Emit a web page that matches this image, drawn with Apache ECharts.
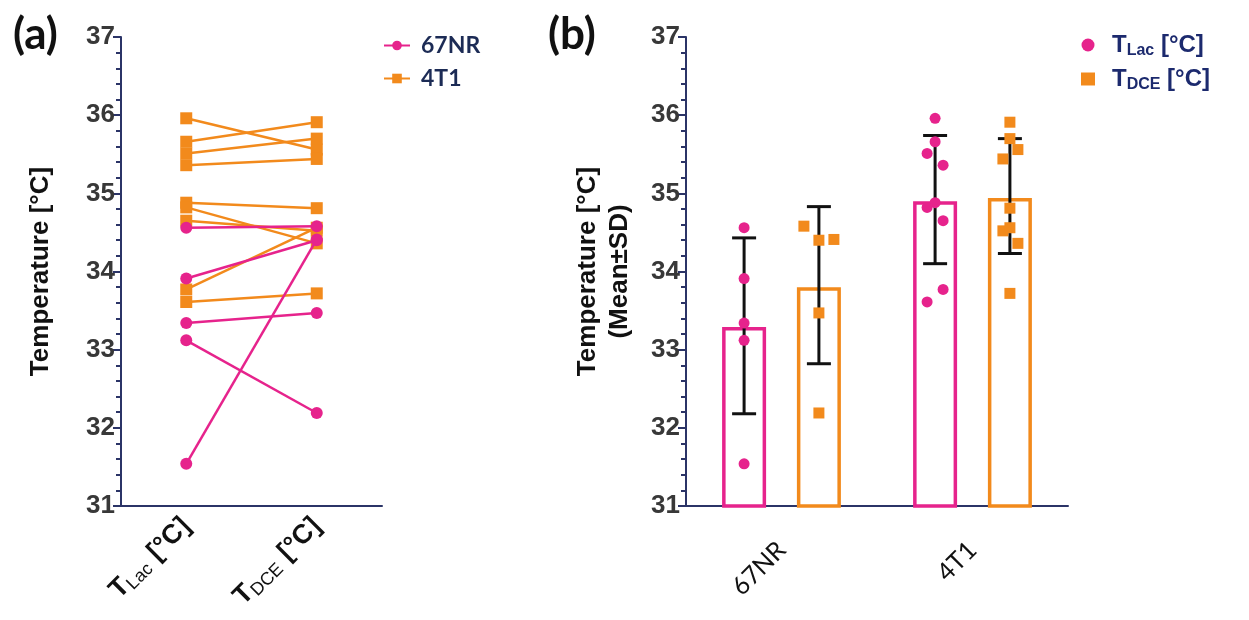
<!DOCTYPE html>
<html>
<head>
<meta charset="utf-8">
<script src="https://cdn.jsdelivr.net/npm/echarts@6/dist/echarts.min.js"></script>
<style>
  html, body { margin: 0; padding: 0; background: #fff; }
  #main { width: 1249px; height: 620px; }
</style>
</head>
<body>
<div id="main"></div>
<script>
// paired readings per mouse (TLac -> TDCE)
var lac67 = [34.56, 33.91, 33.34, 33.12, 31.54];
var dce67 = [34.58, 34.40, 33.47, 32.19, 34.41];
var lac4t1 = [35.96, 35.66, 35.51, 35.36, 34.88, 34.82, 34.65, 33.77, 33.61];
var dce4t1 = [35.56, 35.91, 35.70, 35.44, 34.81, 34.36, 34.52, 34.56, 33.72];

var tempCats = ['TLac', 'TDCE'];
var groupCats = ['67NR', '4T1'];

// mean and mean±SD
var meanLac = [33.29, 34.90];
var meanDce = [33.80, 34.94];
var sdHiLac = [34.43, 35.74];
var sdLoLac = [32.18, 34.10];
var sdHiDce = [34.83, 35.70];
var sdLoDce = [32.82, 34.23];

// horizontal scatter jitter in panel (b), px
var jitLac67 = [0, 0, 0, 0, 0];
var jitDce67 = [-15, 0, 0, 0, 15];
var jitLac4t1 = [0, 0, -8, 8, 0, -8, 8, 8, -8];
var jitDce4t1 = [8, 0, 0, -7, 0, 8, -7, 0, 0];

var PINK = '#e6238c';
var ORANGE = '#f28a1c';
var AXIS = '#2b3467';
var NAVY = '#1c2a6e';
var BAR_SHIFT = 37.4;

var chart = echarts.init(document.getElementById('main'));

function yAxis(gridIndex, name, gap) {
  return {
    type: 'value', gridIndex: gridIndex, min: 31, max: 37, interval: 1,
    axisLine: { show: true, lineStyle: { color: AXIS, width: 2 } },
    axisTick: { show: true, length: 8, lineStyle: { color: AXIS, width: 2 } },
    minorTick: { show: true, splitNumber: 5, length: 5, lineStyle: { color: AXIS, width: 2 } },
    splitLine: { show: false },
    axisLabel: { fontSize: 26, fontWeight: 'bold', color: '#383838', fontFamily: 'Arial', margin: 6 },
    name: name, nameLocation: 'middle', nameGap: gap,
    nameTextStyle: { fontSize: 26, fontWeight: 'bold', color: '#111', fontFamily: 'Arial', lineHeight: 32 }
  };
}

var series = [];
lac4t1.forEach(function (v, i) {
  series.push({
    type: 'line', name: '4T1', xAxisIndex: 0, yAxisIndex: 0,
    data: [v, dce4t1[i]], symbol: 'rect', symbolSize: 12,
    lineStyle: { width: 2.5, color: ORANGE }, itemStyle: { color: ORANGE }, z: 2
  });
});
lac67.forEach(function (v, i) {
  series.push({
    type: 'line', name: '67NR', xAxisIndex: 0, yAxisIndex: 0,
    data: [v, dce67[i]], symbol: 'circle', symbolSize: 12,
    lineStyle: { width: 2.5, color: PINK }, itemStyle: { color: PINK }, z: 3
  });
});

// panel b bars
series.push({
  type: 'bar', name: 'meanLac', xAxisIndex: 1, yAxisIndex: 1, data: meanLac,
  barWidth: 44, barGap: '70%',
  itemStyle: { color: 'rgba(255,255,255,0)', borderColor: PINK, borderWidth: 3.5 }, z: 2
});
series.push({
  type: 'bar', name: 'meanDce', xAxisIndex: 1, yAxisIndex: 1, data: meanDce,
  barWidth: 44, barGap: '70%',
  itemStyle: { color: 'rgba(255,255,255,0)', borderColor: ORANGE, borderWidth: 3.5 }, z: 2
});

function errSeries(hi, lo, shift) {
  return {
    type: 'custom', xAxisIndex: 1, yAxisIndex: 1, z: 3,
    data: hi.map(function (h, i) { return [i, h, lo[i]]; }),
    renderItem: function (params, api) {
      var top = api.coord([api.value(0), api.value(1)]);
      var bot = api.coord([api.value(0), api.value(2)]);
      var x = top[0] + shift, w = 12;
      var st = { stroke: '#111', lineWidth: 3 };
      return {
        type: 'group', children: [
          { type: 'line', shape: { x1: x, y1: top[1], x2: x, y2: bot[1] }, style: st },
          { type: 'line', shape: { x1: x - w, y1: top[1], x2: x + w, y2: top[1] }, style: st },
          { type: 'line', shape: { x1: x - w, y1: bot[1], x2: x + w, y2: bot[1] }, style: st }
        ]
      };
    }
  };
}
series.push(errSeries(sdHiLac, sdLoLac, -BAR_SHIFT));
series.push(errSeries(sdHiDce, sdLoDce, BAR_SHIFT));

function pts(vals, jit, cat, shift) {
  return vals.map(function (v, i) {
    return { value: [cat, v], symbolOffset: [shift + jit[i], 0] };
  });
}
series.push({
  type: 'scatter', name: 'TLac', xAxisIndex: 1, yAxisIndex: 1, z: 4,
  symbol: 'circle', symbolSize: 11, itemStyle: { color: PINK, opacity: 1 },
  data: pts(lac67, jitLac67, 0, -BAR_SHIFT).concat(pts(lac4t1, jitLac4t1, 1, -BAR_SHIFT))
});
series.push({
  type: 'scatter', name: 'TDCE', xAxisIndex: 1, yAxisIndex: 1, z: 4,
  symbol: 'rect', symbolSize: 11, itemStyle: { color: ORANGE, opacity: 1 },
  data: pts(dce67, jitDce67, 0, BAR_SHIFT).concat(pts(dce4t1, jitDce4t1, 1, BAR_SHIFT))
});

var subRich = {
  b: { fontSize: 27, fontWeight: 'bold', color: '#111', fontFamily: 'Arial' },
  s: { fontSize: 18, fontWeight: 'normal', color: '#111', fontFamily: 'Arial', verticalAlign: 'bottom', padding: [12, 1, 0, 0] }
};
var legRich = {
  b: { fontSize: 24, fontWeight: 'bold', color: NAVY, fontFamily: 'Arial' },
  s: { fontSize: 16, fontWeight: 'bold', color: NAVY, fontFamily: 'Arial', padding: [12, 0, 0, 0] }
};

chart.setOption({
  animation: false,
  backgroundColor: '#fff',
  title: [
    { text: '(a)', left: 8, top: 8, textStyle: { fontSize: 44, fontWeight: 'bold', color: '#111', fontFamily: 'Lato' } },
    { text: '(b)', left: 543, top: 8, textStyle: { fontSize: 44, fontWeight: 'bold', color: '#111', fontFamily: 'Lato' } }
  ],
  legend: [
    {
      data: ['67NR', '4T1'], left: 378, top: 29, orient: 'vertical',
      itemWidth: 26, itemHeight: 12, itemGap: 10,
      textStyle: { fontFamily: 'Lato', fontWeight: 'bold', fontSize: 23, color: '#1c2b55', padding: [0, 0, 0, 6] }
    },
    {
      data: ['TLac', 'TDCE'], left: 1076, top: 28, orient: 'vertical',
      itemWidth: 14, itemHeight: 13, itemGap: 8,
      formatter: function (n) { return '{b|T}{s|' + n.slice(1) + '}{b| [°C]}'; },
      textStyle: { rich: legRich, padding: [0, 0, 0, 12] }
    }
  ],
  grid: [
    { left: 121, top: 37, width: 261, height: 469 },
    { left: 686, top: 37, width: 382, height: 469 }
  ],
  xAxis: [
    {
      type: 'category', gridIndex: 0, data: tempCats,
      axisLine: { lineStyle: { color: AXIS, width: 2 } },
      axisTick: { alignWithLabel: true, length: 7, lineStyle: { color: AXIS, width: 2 } },
      axisLabel: {
        rotate: 45, interval: 0, margin: 16,
        formatter: function (v) { return '{b|T}{s|' + v.slice(1) + '}{b| [°C]}'; },
        rich: subRich
      }
    },
    {
      type: 'category', gridIndex: 1, data: groupCats,
      axisLine: { lineStyle: { color: AXIS, width: 2 } },
      axisTick: { alignWithLabel: true, length: 7, lineStyle: { color: AXIS, width: 2 } },
      axisLabel: { rotate: 45, interval: 0, margin: 40, fontSize: 25, color: '#111', fontFamily: 'Lato' }
    }
  ],
  yAxis: [
    yAxis(0, 'Temperature [°C]', 64),
    yAxis(1, 'Temperature [°C]\n(Mean±SD)', 50)
  ],
  series: series
});
</script>
</body>
</html>
